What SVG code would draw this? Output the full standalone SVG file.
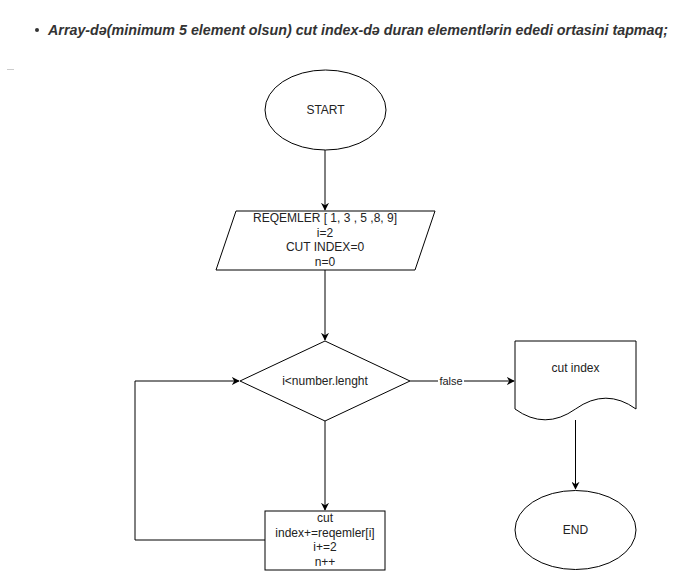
<svg xmlns="http://www.w3.org/2000/svg" width="681" height="571" viewBox="0 0 681 571">
<defs>
<style>
.s{fill:#fff;stroke:#000;stroke-width:1}
.t{font-family:"Liberation Sans",Arial,sans-serif;font-size:12px;fill:#222;text-anchor:middle;dominant-baseline:central}
.c{fill:none;stroke:#000;stroke-width:1}
.h{font-family:"Liberation Sans",Arial,sans-serif;font-size:14px;font-weight:bold;font-style:italic;fill:#333}
</style>
<marker id="a" viewBox="0 0 10 10" refX="9" refY="5" markerWidth="8" markerHeight="8" orient="auto" markerUnits="userSpaceOnUse"><path d="M0,0 L10,5 L0,10 L3,5 Z" fill="#000"/></marker>
</defs>
<rect width="681" height="571" fill="#fff"/>
<g id="header">
<circle cx="37" cy="30" r="2" fill="#333"/>
<text class="h" x="48" y="35" textLength="620" lengthAdjust="spacingAndGlyphs">Array-də(minimum 5 element olsun) cut index-də duran elementlərin ededi ortasini tapmaq;</text>
<line x1="7" y1="69.5" x2="14" y2="69.5" stroke="#ccc" stroke-width="1"/>
</g>
<g id="connectors">
<line class="c" x1="325" y1="150" x2="325" y2="210" marker-end="url(#a)"/>
<line class="c" x1="325" y1="270" x2="325" y2="340" marker-end="url(#a)"/>
<line class="c" x1="410" y1="381" x2="514" y2="381" marker-end="url(#a)"/>
<rect x="438" y="374" width="26" height="14" fill="#fff"/>
<text class="t" x="451" y="381" style="font-size:11px">false</text>
<line class="c" x1="325" y1="421" x2="325" y2="510" marker-end="url(#a)"/>
<polyline class="c" points="265,540 135,540 135,381 239,381" marker-end="url(#a)"/>
<line class="c" x1="575.5" y1="420" x2="575.5" y2="489" marker-end="url(#a)"/>
</g>
<g id="start">
<ellipse class="s" cx="325.5" cy="110" rx="60.5" ry="40"/>
<text class="t" x="325.5" y="110">START</text>
</g>
<g id="input">
<polygon class="s" points="236,211 435,211 415,270 216,270"/>
<text class="t" x="325" y="218">REQEMLER [ 1, 3 , 5 ,8, 9]</text>
<text class="t" x="325" y="232.5">i=2</text>
<text class="t" x="325" y="247">CUT INDEX=0</text>
<text class="t" x="325" y="261.5">n=0</text>
</g>
<g id="decision">
<polygon class="s" points="325,341 410,381 325,421 240,381"/>
<text class="t" x="325" y="381">i&lt;number.lenght</text>
</g>
<g id="output">
<path class="s" d="M515,341 H636 V409 Q606,387.4 575.5,409 Q545,430.6 515,409 Z"/>
<text class="t" x="575.5" y="368">cut index</text>
</g>
<g id="process">
<rect class="s" x="265" y="511" width="120" height="59"/>
<text class="t" x="325" y="518">cut</text>
<text class="t" x="325" y="532.5">index+=reqemler[i]</text>
<text class="t" x="325" y="547">i+=2</text>
<text class="t" x="325" y="561.5">n++</text>
</g>
<g id="end">
<ellipse class="s" cx="575.5" cy="530" rx="60.5" ry="39.5"/>
<text class="t" x="575.5" y="530">END</text>
</g>
</svg>
